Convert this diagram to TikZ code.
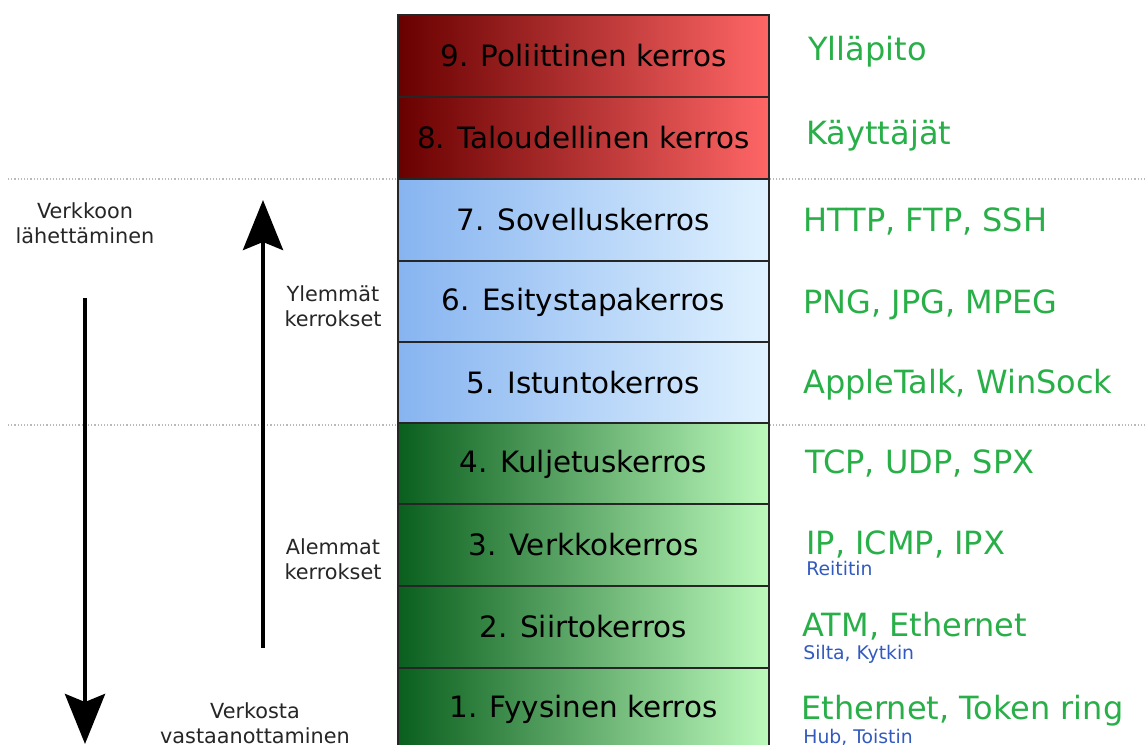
\documentclass[tikz,border=0pt]{standalone}
\usepackage{fontspec}
\setmainfont{DejaVu Sans}
\usetikzlibrary{arrows.meta}
% kerrosten värit
\definecolor{polDark}{RGB}{105,0,0}
\definecolor{polLight}{RGB}{255,102,102}
\definecolor{appDark}{RGB}{135,180,240}
\definecolor{appLight}{RGB}{224,242,255}
\definecolor{netDark}{RGB}{10,95,30}
\definecolor{netLight}{RGB}{188,250,188}
\definecolor{protoGreen}{RGB}{40,175,72}
\definecolor{devBlue}{RGB}{50,90,190}

\begin{document}
\begin{tikzpicture}[x=0.5pt,y=-0.5pt,
  layer/.style={draw=black!85,line width=1pt,minimum width=185.5pt,minimum height=41pt,
    inner sep=0pt,font=\fontsize{14.7}{17}\selectfont},
  redlayer/.style={layer,left color=polDark,right color=polLight},
  bluelayer/.style={layer,left color=appDark,right color=appLight},
  greenlayer/.style={layer,left color=netDark,right color=netLight},
  proto/.style={anchor=base west,inner sep=0pt,text=protoGreen,font=\fontsize{16}{19}\selectfont},
  device/.style={anchor=base west,inner sep=0pt,text=devBlue,font=\fontsize{9.4}{11}\selectfont},
  side/.style={align=center,inner sep=0pt,text=black!85,font=\fontsize{10.4}{12.5}\selectfont},
  bigarrow/.style={line width=2.2pt,-{Stealth[length=25pt,width=20pt,inset=4pt]}},
  splitline/.style={gray!55,densely dotted,line width=0.6pt}]
  \useasboundingbox (0,0) rectangle (1145,744);

  % rajat ylempien ja alempien kerrosten välillä
  \draw[splitline] (8,179) -- (1145,179);
  \draw[splitline] (8,425) -- (1145,425);

  % kerrospino
  \node[redlayer]   (L9) at (583.5,56)  {9. Poliittinen kerros};
  \node[redlayer]   (L8) at (583.5,138) {8. Taloudellinen kerros};
  \node[bluelayer]  (L7) at (583.5,220) {7. Sovelluskerros};
  \node[bluelayer]  (L6) at (583.5,302) {6. Esitystapakerros};
  \node[bluelayer]  (L5) at (583.5,383) {5. Istuntokerros};
  \node[greenlayer] (L4) at (583.5,464) {4. Kuljetuskerros};
  \node[greenlayer] (L3) at (583.5,545) {3. Verkkokerros};
  \node[greenlayer] (L2) at (583.5,627) {2. Siirtokerros};
  \node[greenlayer] (L1) at (583.5,709) {1. Fyysinen kerros};

  % protokollat ja laitteet
  \node[proto]  (p9) at (808,60)  {Ylläpito};
  \node[proto]  (p8) at (806,144) {Käyttäjät};
  \node[proto]  (p7) at (803,231) {HTTP, FTP, SSH};
  \node[proto]  (p6) at (803,313) {PNG, JPG, MPEG};
  \node[proto]  (p5) at (803,393) {AppleTalk, WinSock};
  \node[proto]  (p4) at (805,473) {TCP, UDP, SPX};
  \node[proto]  (p3) at (806,554) {IP, ICMP, IPX};
  \node[device] (d3) at (806,575) {Reititin};
  \node[proto]  (p2) at (802,636) {ATM, Ethernet};
  \node[device] (d2) at (803,659) {Silta, Kytkin};
  \node[proto]  (p1) at (801,719) {Ethernet, Token ring};
  \node[device] (d1) at (803,743) {Hub, Toistin};

  % suunnat
  \node[side] (send) at (85,223)  {Verkkoon\\lähettäminen};
  \node[side] (upper) at (333,306) {Ylemmät\\kerrokset};
  \node[side] (lower) at (333,559) {Alemmat\\kerrokset};
  \node[side] (recv) at (255,723) {Verkosta\\vastaanottaminen};
  \coordinate (downStart) at (85,298);
  \coordinate (downEnd) at (85,744);
  \coordinate (upStart) at (263,648);
  \coordinate (upEnd) at (263,200);
  \draw[bigarrow] (downStart) -- (downEnd);
  \draw[bigarrow] (upStart) -- (upEnd);
\end{tikzpicture}
\end{document}
